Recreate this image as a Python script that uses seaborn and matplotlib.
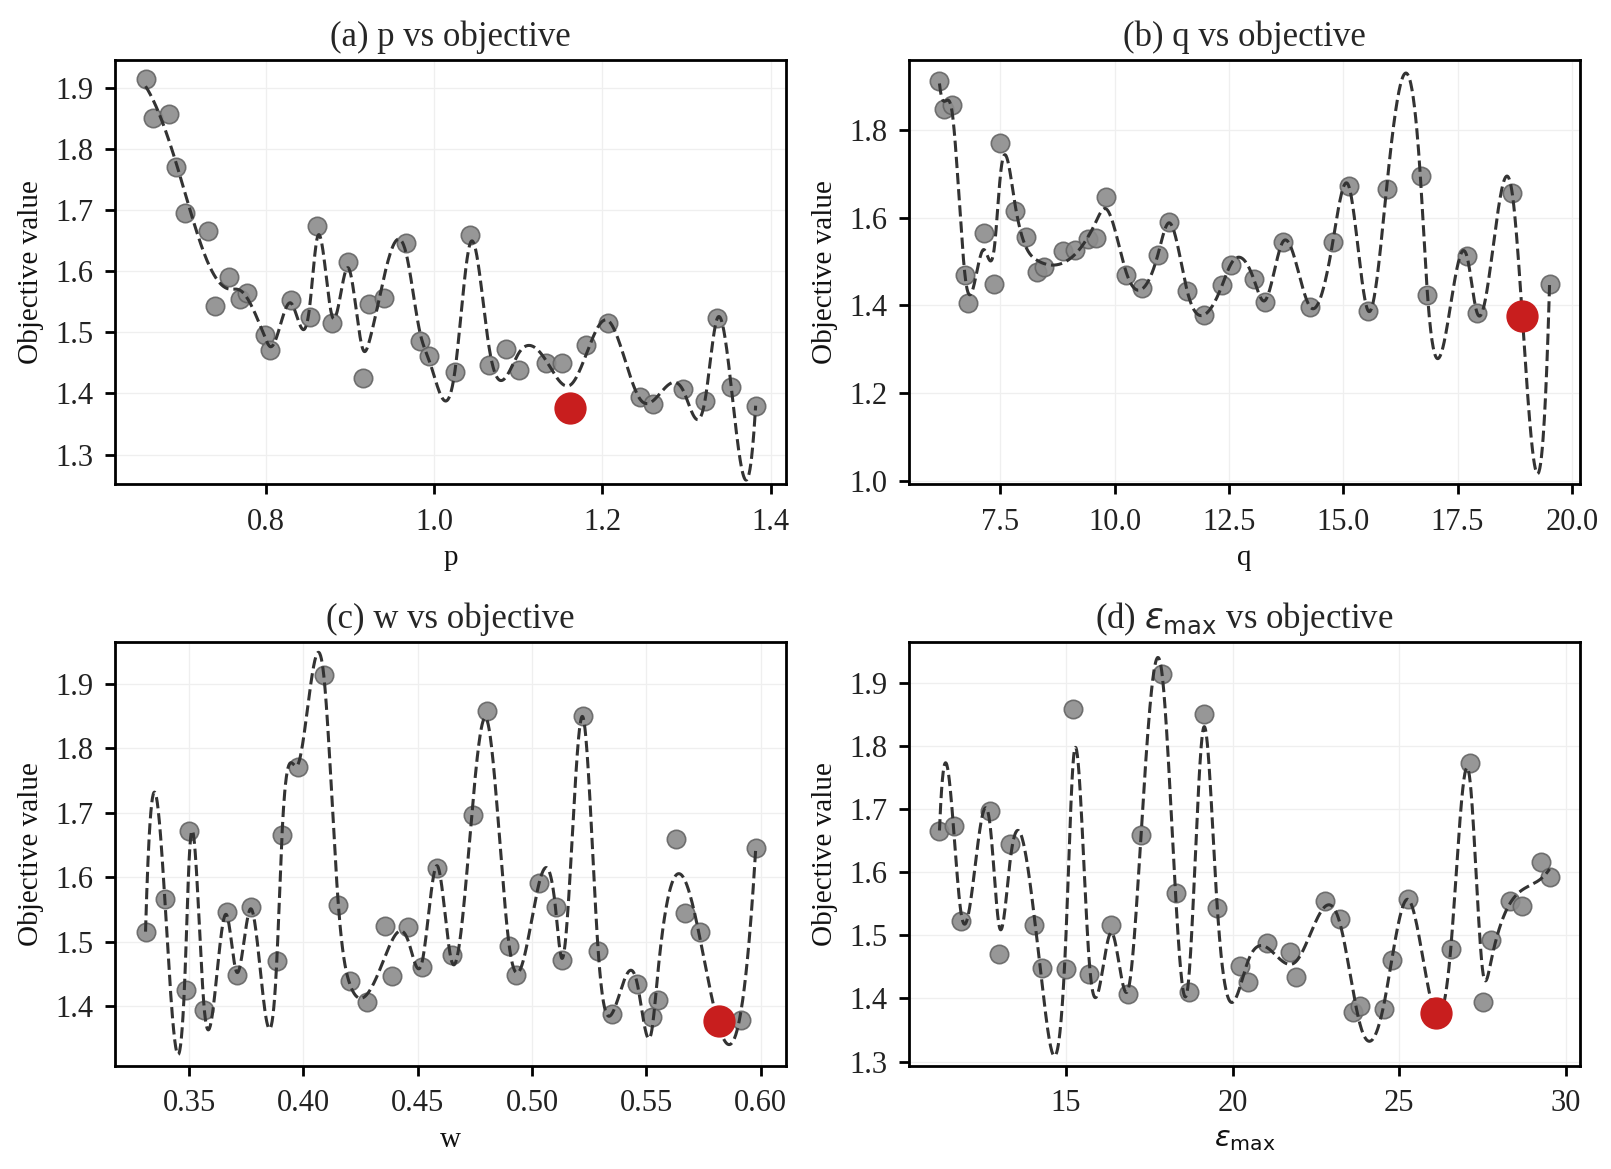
import numpy as np
import pandas as pd
import matplotlib
matplotlib.use("Agg")
import matplotlib.pyplot as plt
import seaborn as sns

# ---------------- data ----------------
p_vals = [0.657, 0.666, 0.685, 0.693, 0.704, 0.731, 0.739, 0.756, 0.769, 0.777,
          0.799, 0.805, 0.830, 0.852, 0.861, 0.879, 0.898, 0.916, 0.923, 0.940,
          0.967, 0.983, 0.994, 1.025, 1.043, 1.065, 1.085, 1.101, 1.133, 1.152,
          1.162, 1.181, 1.206, 1.245, 1.260, 1.296, 1.322, 1.336, 1.353, 1.382]
obj_p = [1.915, 1.851, 1.858, 1.771, 1.695, 1.666, 1.544, 1.590, 1.555, 1.565,
         1.495, 1.471, 1.553, 1.525, 1.674, 1.515, 1.616, 1.425, 1.547, 1.556,
         1.647, 1.486, 1.461, 1.435, 1.660, 1.447, 1.472, 1.439, 1.450, 1.450,
         1.377, 1.479, 1.515, 1.395, 1.383, 1.407, 1.387, 1.524, 1.410, 1.380]

q_vals = [6.165, 6.275, 6.443, 6.734, 6.785, 7.135, 7.369, 7.500, 7.813, 8.062,
          8.303, 8.448, 8.871, 9.141, 9.418, 9.579, 9.798, 10.257, 10.600, 10.950,
          11.183, 11.585, 11.950, 12.351, 12.533, 13.043, 13.277, 13.677, 14.280, 14.770,
          15.120, 15.546, 15.946, 16.690, 16.837, 17.712, 17.916, 18.696, 18.915, 19.513]
obj_q = [1.914, 1.849, 1.858, 1.469, 1.406, 1.566, 1.449, 1.771, 1.615, 1.556,
         1.476, 1.488, 1.524, 1.526, 1.552, 1.554, 1.647, 1.470, 1.440, 1.516,
         1.591, 1.432, 1.379, 1.446, 1.493, 1.461, 1.409, 1.546, 1.396, 1.544,
         1.674, 1.387, 1.666, 1.696, 1.425, 1.514, 1.383, 1.658, 1.377, 1.449]

w_vals = [0.3309, 0.3394, 0.3484, 0.3499, 0.3564, 0.3664, 0.3707, 0.3769, 0.3885, 0.3904,
          0.3974, 0.4089, 0.4152, 0.4203, 0.4280, 0.4356, 0.4387, 0.4458, 0.4519, 0.4585,
          0.4648, 0.4740, 0.4801, 0.4900, 0.4928, 0.5030, 0.5103, 0.5129, 0.5221, 0.5289,
          0.5348, 0.5460, 0.5523, 0.5549, 0.5628, 0.5668, 0.5734, 0.5818, 0.5912, 0.5978]
obj_w = [1.515, 1.566, 1.425, 1.672, 1.394, 1.546, 1.449, 1.554, 1.470, 1.666,
         1.771, 1.914, 1.557, 1.439, 1.407, 1.525, 1.447, 1.523, 1.461, 1.615,
         1.480, 1.696, 1.858, 1.494, 1.449, 1.591, 1.554, 1.471, 1.851, 1.486,
         1.388, 1.434, 1.383, 1.409, 1.659, 1.544, 1.515, 1.377, 1.379, 1.646]

e_vals = [11.21, 11.64, 11.86, 12.74, 13.01, 13.34, 14.04, 14.29, 15.02, 15.22,
          15.69, 16.37, 16.88, 17.25, 17.88, 18.30, 18.68, 19.13, 19.52, 20.23,
          20.45, 21.03, 21.73, 21.90, 22.77, 23.23, 23.60, 23.83, 24.53, 24.78,
          25.26, 26.11, 26.56, 27.11, 27.51, 27.74, 28.31, 28.69, 29.26, 29.51]
obj_e = [1.665, 1.673, 1.523, 1.696, 1.471, 1.645, 1.516, 1.448, 1.447, 1.858,
         1.439, 1.516, 1.407, 1.658, 1.914, 1.567, 1.410, 1.851, 1.543, 1.451,
         1.426, 1.487, 1.473, 1.434, 1.554, 1.525, 1.379, 1.388, 1.384, 1.461,
         1.558, 1.377, 1.479, 1.772, 1.394, 1.493, 1.555, 1.547, 1.616, 1.592]

titles = ["(a) p vs objective", "(b) q vs objective", "(c) w vs objective",
          r"(d) $\varepsilon_{\mathrm{max}}$ vs objective"]
xlabels = ["p", "q", "w", r"$\varepsilon_{\mathrm{max}}$"]
ylabel = "Objective value"
smooth_s = [0.025, 0.02, 0.02, 0.03]


# ---------------- smoothing spline with adaptive knots (FITPACK-like) ----------------
def bspline_basis(x, t, k=3):
    x = np.asarray(x, float)
    t = np.asarray(t, float)
    nb0 = len(t) - 1
    B = np.zeros((len(x), nb0))
    valid = [i for i in range(nb0) if t[i] < t[i + 1]]
    for i in valid:
        B[:, i] = (x >= t[i]) & (x < t[i + 1])
    at_end = x >= t[-1]
    B[at_end, :] = 0.0
    B[at_end, valid[-1]] = 1.0
    for d in range(1, k + 1):
        nb = nb0 - d
        Bn = np.zeros((len(x), nb))
        for i in range(nb):
            den1 = t[i + d] - t[i]
            den2 = t[i + d + 1] - t[i + 1]
            col = np.zeros(len(x))
            if den1 > 0:
                col += (x - t[i]) / den1 * B[:, i]
            if den2 > 0:
                col += (t[i + d + 1] - x) / den2 * B[:, i + 1]
            Bn[:, i] = col
        B = Bn
    return B


def jump_matrix(t, k=3):
    t = np.asarray(t, float)
    nc = len(t) - k - 1
    M = np.eye(nc)
    tk, kk = t, k
    for _ in range(k):
        n_new = M.shape[0] - 1
        D = np.zeros((n_new, M.shape[0]))
        for i in range(n_new):
            den = tk[i + kk + 1] - tk[i + 1]
            if den > 0:
                D[i, i] = -kk / den
                D[i, i + 1] = kk / den
        M = D @ M
        tk, kk = tk[1:-1], kk - 1
    return np.diff(M, axis=0)


def fitpack_like_spline(x, y, s, k=3, n_eval=1500):
    x = np.asarray(x, float)
    y = np.asarray(y, float)
    order = np.argsort(x)
    x, y = x[order], y[order]
    x0, x1 = x[0], x[-1]
    u = (x - x0) / (x1 - x0)
    m = len(u)
    interior = []
    nplus, fpold = 1, None
    while True:
        t = np.r_[[0.0] * (k + 1), sorted(interior), [1.0] * (k + 1)]
        B = bspline_basis(u, t, k)
        c = np.linalg.lstsq(B, y, rcond=None)[0]
        res2 = (y - B @ c) ** 2
        fp = res2.sum()
        fpms = fp - s
        if fpms < 0 or len(interior) >= m - k - 1:
            break
        if fpold is not None:
            npl1 = nplus * 2
            if fpold - fp > 1e-12:
                npl1 = int(nplus * fpms / (fpold - fp))
            nplus = min(nplus * 2, max(npl1, nplus // 2, 1))
        fpold = fp
        knots = np.r_[0.0, sorted(interior), 1.0]
        fpint = []
        members = []
        for j in range(len(knots) - 1):
            a, b = knots[j], knots[j + 1]
            inside = np.where((u > a) & (u < b))[0]
            tot = res2[(u > a) & (u < b)].sum()
            tot += 0.5 * res2[u == a].sum() + 0.5 * res2[u == b].sum()
            fpint.append(tot)
            members.append(inside)
        for _ in range(nplus):
            cand = [j for j in range(len(fpint)) if len(members[j]) > 0]
            if not cand or len(interior) >= m - k - 1:
                break
            jmax = max(cand, key=lambda j: fpint[j])
            inside = members[jmax]
            half = len(inside) // 2
            interior.append(u[inside[half]])
            left = inside[:half]
            right = inside[half + 1:]
            tot = fpint[jmax]
            nl, nr = len(left) + 0.5, len(right) + 0.5
            fpint[jmax:jmax + 1] = [tot * nl / (nl + nr), tot * nr / (nl + nr)]
            members[jmax:jmax + 1] = [left, right]
    t = np.r_[[0.0] * (k + 1), sorted(interior), [1.0] * (k + 1)]
    B = bspline_basis(u, t, k)
    J = jump_matrix(t, k)
    if J.shape[0] > 0 and fp < s:
        P = J.T @ J
        BtB, Bty = B.T @ B, B.T @ y

        def fit(lam):
            cc = np.linalg.solve(BtB + lam * P + 1e-14 * np.eye(len(BtB)), Bty)
            return cc, ((y - B @ cc) ** 2).sum()

        lo, hi = -20.0, 10.0
        for _ in range(80):
            mid = 0.5 * (lo + hi)
            _, f = fit(10 ** mid)
            if f > s:
                hi = mid
            else:
                lo = mid
        c, _ = fit(10 ** lo)
    ue = np.linspace(0, 1, n_eval)
    ye = bspline_basis(ue, t, k) @ c
    return x0 + ue * (x1 - x0), ye


# ---------------- style ----------------
sns.set_theme(style="whitegrid")
plt.rcParams.update({
    "font.family": ["Liberation Serif", "DejaVu Serif"],
    "mathtext.fontset": "dejavusans",
    "axes.edgecolor": "black",
    "axes.linewidth": 2.0,
    "axes.facecolor": "white",
    "grid.color": "#efefef",
    "grid.linewidth": 0.9,
    "xtick.bottom": True,
    "ytick.left": True,
    "xtick.major.size": 7.2,
    "ytick.major.size": 7.2,
    "xtick.major.width": 2.0,
    "ytick.major.width": 2.0,
    "xtick.major.pad": 9.5,
    "ytick.major.pad": 8.5,
    "xtick.color": "black",
    "ytick.color": "black",
    "xtick.labelcolor": "#222222",
    "ytick.labelcolor": "#222222",
    "xtick.labelsize": 22,
    "ytick.labelsize": 22,
    "axes.labelsize": 21,
    "axes.titlesize": 25,
    "axes.labelcolor": "#111111",
})

fig, axes = plt.subplots(2, 2, figsize=(16.11, 11.69), dpi=100)
fig.subplots_adjust(left=0.0714, right=0.9808, top=0.9487, bottom=0.0881,
                    wspace=0.183, hspace=0.37)

panels = [
    (p_vals, obj_p, (1.251, 1.946), [0.8, 1.0, 1.2, 1.4], [1.3, 1.4, 1.5, 1.6, 1.7, 1.8, 1.9]),
    (q_vals, obj_q, (0.991, 1.961), [7.5, 10.0, 12.5, 15.0, 17.5, 20.0], [1.0, 1.2, 1.4, 1.6, 1.8]),
    (w_vals, obj_w, (1.307, 1.966), [0.35, 0.40, 0.45, 0.50, 0.55, 0.60], [1.4, 1.5, 1.6, 1.7, 1.8, 1.9]),
    (e_vals, obj_e, (1.293, 1.965), [15, 20, 25, 30], [1.3, 1.4, 1.5, 1.6, 1.7, 1.8, 1.9]),
]

for ax, (xv, yv, ylim, xt, yt), title, xl, sm in zip(axes.flat, panels, titles, xlabels, smooth_s):
    df = pd.DataFrame({"x": xv, "y": yv})
    ibest = df["y"].idxmin()
    best = df.loc[[ibest]]
    others = df.drop(index=ibest)
    sns.scatterplot(data=others, x="x", y="y", ax=ax, s=175, color="#8c8c8c",
                    edgecolor="#656565", linewidth=1.2, alpha=0.9, zorder=3)
    xs, ys = fitpack_like_spline(xv, yv, sm)
    sns.lineplot(x=xs, y=ys, ax=ax, estimator=None, sort=False, color="#333333",
                 linestyle="--", linewidth=2.2, zorder=4)
    sns.scatterplot(data=best, x="x", y="y", ax=ax, s=540, color="#c81e1e",
                    edgecolor="#c81e1e", linewidth=0, zorder=5)
    ax.set_ylim(*ylim)
    ax.set_xticks(xt)
    ax.set_yticks(yt)
    ax.set_title(title, pad=10)
    ax.set_xlabel(xl, labelpad=6)
    ax.set_ylabel(ylabel, labelpad=8)
    for sp in ax.spines.values():
        sp.set_visible(True)
        sp.set_color("black")
    ax.tick_params(direction="out")

fig.savefig("out.png", dpi=100)
